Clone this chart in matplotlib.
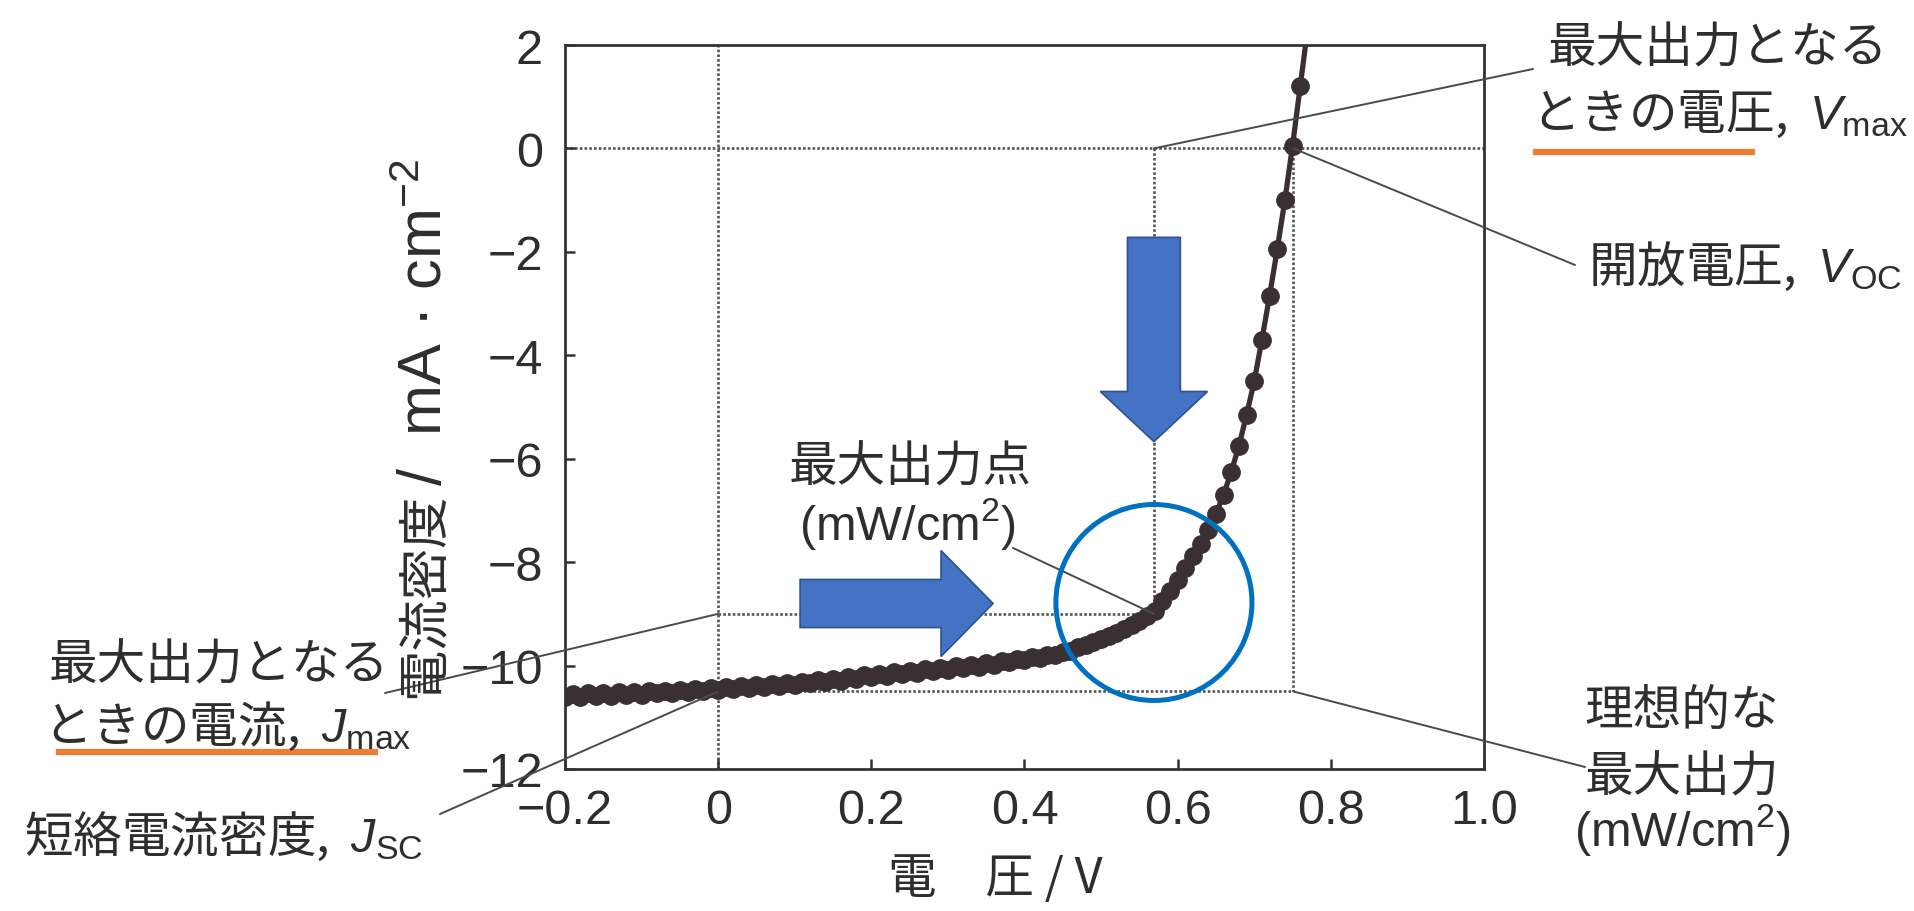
import matplotlib
matplotlib.use('Agg')
import matplotlib.pyplot as plt
from matplotlib.lines import Line2D
from matplotlib.patches import FancyArrow, Ellipse

plt.rcParams['font.family'] = ['Liberation Sans', 'Noto Sans CJK JP', 'DejaVu Sans']
plt.rcParams['mathtext.fontset'] = 'custom'
plt.rcParams['mathtext.rm'] = 'Liberation Sans'
plt.rcParams['mathtext.it'] = 'Liberation Sans:italic'

# measured J-V curve (last point is where the line leaves the frame, no marker)
voltage = [-0.20, -0.19, -0.18, -0.17, -0.16, -0.15, -0.14, -0.13, -0.12, -0.11,
           -0.10, -0.09, -0.08, -0.07, -0.06, -0.05, -0.04, -0.03, -0.02, -0.01,
           0.00, 0.01, 0.02, 0.03, 0.04, 0.05, 0.06, 0.07, 0.08, 0.09,
           0.10, 0.11, 0.12, 0.13, 0.14, 0.15, 0.16, 0.17, 0.18, 0.19,
           0.20, 0.21, 0.22, 0.23, 0.24, 0.25, 0.26, 0.27, 0.28, 0.29,
           0.30, 0.31, 0.32, 0.33, 0.34, 0.35, 0.36, 0.37, 0.38, 0.39,
           0.40, 0.41, 0.42, 0.43, 0.44, 0.45, 0.46, 0.47, 0.48, 0.49,
           0.50, 0.51, 0.52, 0.53, 0.54, 0.55, 0.56, 0.57, 0.58, 0.59,
           0.60, 0.61, 0.62, 0.63, 0.64, 0.65, 0.66, 0.67, 0.68, 0.69,
           0.70, 0.71, 0.72, 0.73, 0.74, 0.75, 0.76, 0.767]
current = [-10.60, -10.55, -10.61, -10.54, -10.59, -10.53, -10.58, -10.52, -10.57, -10.51,
           -10.56, -10.50, -10.54, -10.49, -10.53, -10.47, -10.52, -10.46, -10.50, -10.44,
           -10.48, -10.42, -10.46, -10.40, -10.44, -10.38, -10.42, -10.36, -10.40, -10.33,
           -10.37, -10.31, -10.34, -10.28, -10.32, -10.25, -10.29, -10.22, -10.26, -10.19,
           -10.23, -10.16, -10.20, -10.13, -10.17, -10.10, -10.14, -10.07, -10.11, -10.04,
           -10.08, -10.01, -10.05, -9.98, -10.02, -9.95, -9.98, -9.91, -9.94, -9.87,
           -9.90, -9.84, -9.85, -9.79, -9.79, -9.73, -9.71, -9.65, -9.61, -9.55,
           -9.49, -9.43, -9.37, -9.30, -9.22, -9.14, -9.05, -8.94, -8.76, -8.56,
           -8.34, -8.11, -7.88, -7.64, -7.38, -7.06, -6.70, -6.25, -5.75, -5.15,
           -4.50, -3.70, -2.85, -1.95, -1.00, 0.05, 1.20, 2.00]

x_ticks = [-0.2, 0.0, 0.2, 0.4, 0.6, 0.8, 1.0]
x_tick_labels = ['\u22120.2', '0', '0.2', '0.4', '0.6', '0.8', '1.0']
y_ticks = [2, 0, -2, -4, -6, -8, -10, -12]
y_tick_labels = ['2', '0', '\u22122', '\u22124', '\u22126', '\u22128', '\u221210', '\u221212']

v_max, j_max = 0.569, -9.0
v_oc, j_sc = 0.751, -10.5

DARK = '#3a3033'
TEXT = '#2e2e2e'
GRID = '#555555'
LEAD = '#4a4a4a'
BLUE = '#4472C4'
RING = '#0070C0'
ORANGE = '#ED7D31'
FS = 35
CJK = 'Noto Sans CJK JP'

W, H = 1915, 912
fig = plt.figure(figsize=(W / 100, H / 100), dpi=100)


def fx(px):
    return px / W


def fy(py):
    return 1 - py / H


ax = fig.add_axes([fx(565), fy(770), (1484 - 565) / W, (770 - 46) / H])
ax.set_xlim(-0.2, 1.0)
ax.set_ylim(-12, 2)

# dotted guide lines
dot = dict(color=GRID, lw=1.9, ls=(0, (1, 0.8)), zorder=1)
ax.axhline(0, **dot)
ax.axvline(0, **dot)
ax.plot([0, v_max], [j_max, j_max], **dot)
ax.plot([v_max, v_max], [0, j_max], **dot)
ax.plot([0, v_oc], [j_sc, j_sc], **dot)
ax.plot([v_oc, v_oc], [0, j_sc], **dot)

# the curve
ax.plot(voltage, current, color=DARK, lw=3.8, marker='o', ms=12.5,
        markevery=list(range(len(voltage) - 1)), zorder=3)

# blue highlights
ax.add_patch(FancyArrow(v_max, -1.72, 0, -3.95, width=0.069, head_width=0.14,
                        head_length=0.97, length_includes_head=True,
                        fc=BLUE, ec='#2F528F', lw=1.2, zorder=4))
ax.add_patch(FancyArrow(0.107, -8.80, 0.252, 0, width=0.93, head_width=2.05,
                        head_length=0.068, length_includes_head=True,
                        fc=BLUE, ec='#2F528F', lw=1.2, zorder=4))
ax.add_patch(Ellipse((v_max, -8.78), 0.256, 3.79, fill=False, ec=RING,
                     lw=3.6, zorder=5))

# axes styling
for s in ax.spines.values():
    s.set_linewidth(2.0)
    s.set_color('#333333')
ax.set_xticks(x_ticks)
ax.set_xticklabels(x_tick_labels)
ax.set_yticks(y_ticks)
ax.set_yticklabels(y_tick_labels)
ax.tick_params(direction='in', length=7, width=1.8, color='#333333',
               labelsize=FS, labelcolor=TEXT)
ax.tick_params(axis='x', pad=14)
ax.tick_params(axis='y', pad=16)

# y label in two pieces: CJK part and unit part
fig.text(fx(424), fy(492), '電流密度', rotation=90, ha='center', va='top',
         fontsize=37, color=TEXT, family=CJK)
fig.text(fx(426), fy(486), '/  mA \u00b7 cm$^{-2}$', rotation=90, ha='center',
         va='bottom', fontsize=44, color=TEXT)
fig.text(fx(995), fy(893), '電\u3000圧 / V', ha='center', va='baseline',
         fontsize=FS, color=TEXT, family=CJK)

# leader lines
lead = dict(arrowstyle='-', color=LEAD, lw=1.4, shrinkA=0, shrinkB=0)
ax.annotate('', xy=(v_max, 0), xytext=(fx(1533), fy(70)),
            textcoords='figure fraction', arrowprops=lead, annotation_clip=False)
ax.annotate('', xy=(v_oc, 0), xytext=(fx(1575), fy(266)),
            textcoords='figure fraction', arrowprops=lead, annotation_clip=False)
ax.annotate('', xy=(v_max, j_max), xytext=(fx(1013), fy(549)),
            textcoords='figure fraction', arrowprops=lead, annotation_clip=False)
ax.annotate('', xy=(v_oc, j_sc), xytext=(fx(1585), fy(768)),
            textcoords='figure fraction', arrowprops=lead, annotation_clip=False)
ax.annotate('', xy=(0, j_max), xytext=(fx(385), fy(694)),
            textcoords='figure fraction', arrowprops=lead, annotation_clip=False)
ax.annotate('', xy=(0, j_sc), xytext=(fx(440), fy(815)),
            textcoords='figure fraction', arrowprops=lead, annotation_clip=False)

# labels
txt = dict(fontsize=FS, color=TEXT, va='baseline')
fig.text(fx(1548), fy(62), '最大出力となる', ha='left', family=CJK, **txt)
fig.text(fx(1531), fy(129), 'ときの電圧,  $V_{\\mathrm{max}}$', ha='left', family=CJK, **txt)
fig.text(fx(1588), fy(282), '開放電圧,  $V_{\\mathrm{OC}}$', ha='left', family=CJK, **txt)
fig.text(fx(910), fy(481), '最大出力点', ha='center', family=CJK, **txt)
fig.text(fx(907), fy(540), '(mW/cm$^2$)', ha='center', **txt)
fig.text(fx(1682), fy(725), '理想的な', ha='center', family=CJK, **txt)
fig.text(fx(1682), fy(791), '最大出力', ha='center', family=CJK, **txt)
fig.text(fx(1682), fy(846), '(mW/cm$^2$)', ha='center', **txt)
fig.text(fx(49), fy(679), '最大出力となる', ha='left', family=CJK, **txt)
fig.text(fx(43), fy(742), 'ときの電流,  $J_{\\mathrm{max}}$', ha='left', family=CJK, **txt)
fig.text(fx(24), fy(852), '短絡電流密度,  $J_{\\mathrm{SC}}$', ha='left', family=CJK, **txt)

# orange underlines
fig.add_artist(Line2D([fx(1536), fx(1752)], [fy(153), fy(153)], color=ORANGE, lw=4.5))
fig.add_artist(Line2D([fx(59), fx(375)], [fy(753), fy(753)], color=ORANGE, lw=4.5))

fig.savefig('out.png', dpi=100, facecolor='white')
